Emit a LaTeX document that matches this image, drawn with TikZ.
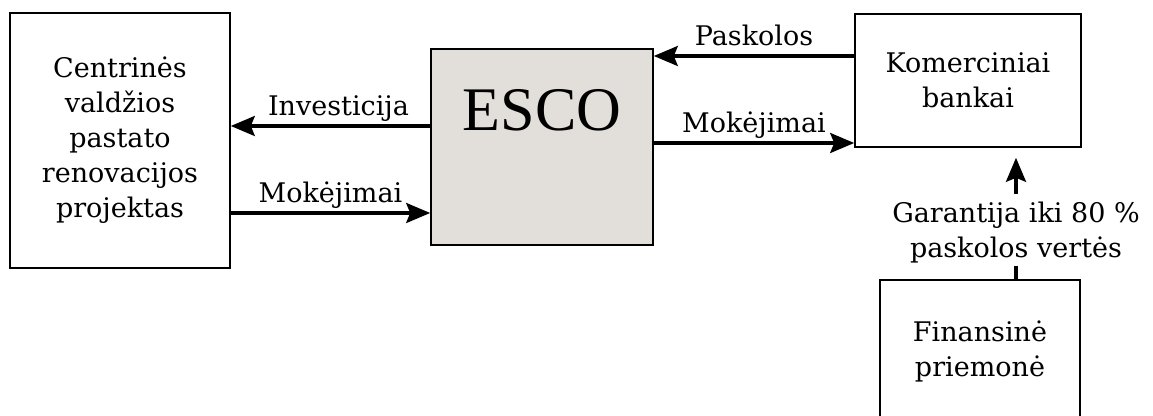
\documentclass[tikz,border=0pt]{standalone}
\usepackage{fontspec}
\setmainfont{DejaVu Serif}
\newfontfamily\escofont{Liberation Serif}
\usetikzlibrary{arrows.meta}
\definecolor{escogray}{RGB}{226,222,217}

\begin{document}
\begin{tikzpicture}[x=0.5pt, y=-0.5pt,
    every node/.style={font=\fontsize{13.5}{17.5}\selectfont, align=center},
    box/.style={draw=black, line width=0.8pt, inner sep=0pt},
    arr/.style={line width=1.6pt, -{Stealth[length=12pt, width=10pt, inset=2pt]}},
    lbl/.style={above, inner sep=1.5pt, text depth=3pt}]

\useasboundingbox (0,0) rectangle (1153,416);

% Boxes
\node[box, minimum width=110pt, minimum height=127.5pt] (proj) at (120,140.5)
    {Centrinės\\valdžios\\pastato\\renovacijos\\projektas};
\node[box, fill=escogray, minimum width=111pt, minimum height=98pt] (esco) at (542,147) {};
\node[font=\escofont\fontsize{31}{31}\selectfont] (escotxt) at (542,110) {ESCO};
\node[box, minimum width=113pt, minimum height=66.5pt] (bank) at (968,80.5)
    {Komerciniai\\bankai};
\node[box, minimum width=100pt, minimum height=71pt] (fin) at (980,351)
    {Finansinė\\priemonė};
\node[fill=white, inner sep=1pt] (garlbl) at (1016,233)
    {Garantija iki 80~\%\\paskolos vertės};

% Levels of the arrows
\coordinate (inv) at (0,126);
\coordinate (mok1) at (0,213);
\coordinate (pask) at (0,56);
\coordinate (mok2) at (0,143);
\coordinate (gar) at (1016,0);
\coordinate (gartop) at (1016,194);

% Arrows
\draw[arr] (esco.west |- inv) -- node[lbl, pos=0.46] {Investicija} (proj.east |- inv);
\draw[arr] (proj.east |- mok1) -- node[lbl] {Mokėjimai} (esco.west |- mok1);
\draw[arr] (bank.west |- pask) -- node[lbl] {Paskolos} (esco.east |- pask);
\draw[arr] (esco.east |- mok2) -- node[lbl] {Mokėjimai} (bank.west |- mok2);
\draw[line width=1.6pt] (fin.north -| gar) -- (garlbl.south -| gar);
\draw[arr, shorten >=5pt] (gartop) -- (bank.south -| gar);

\end{tikzpicture}
\end{document}
